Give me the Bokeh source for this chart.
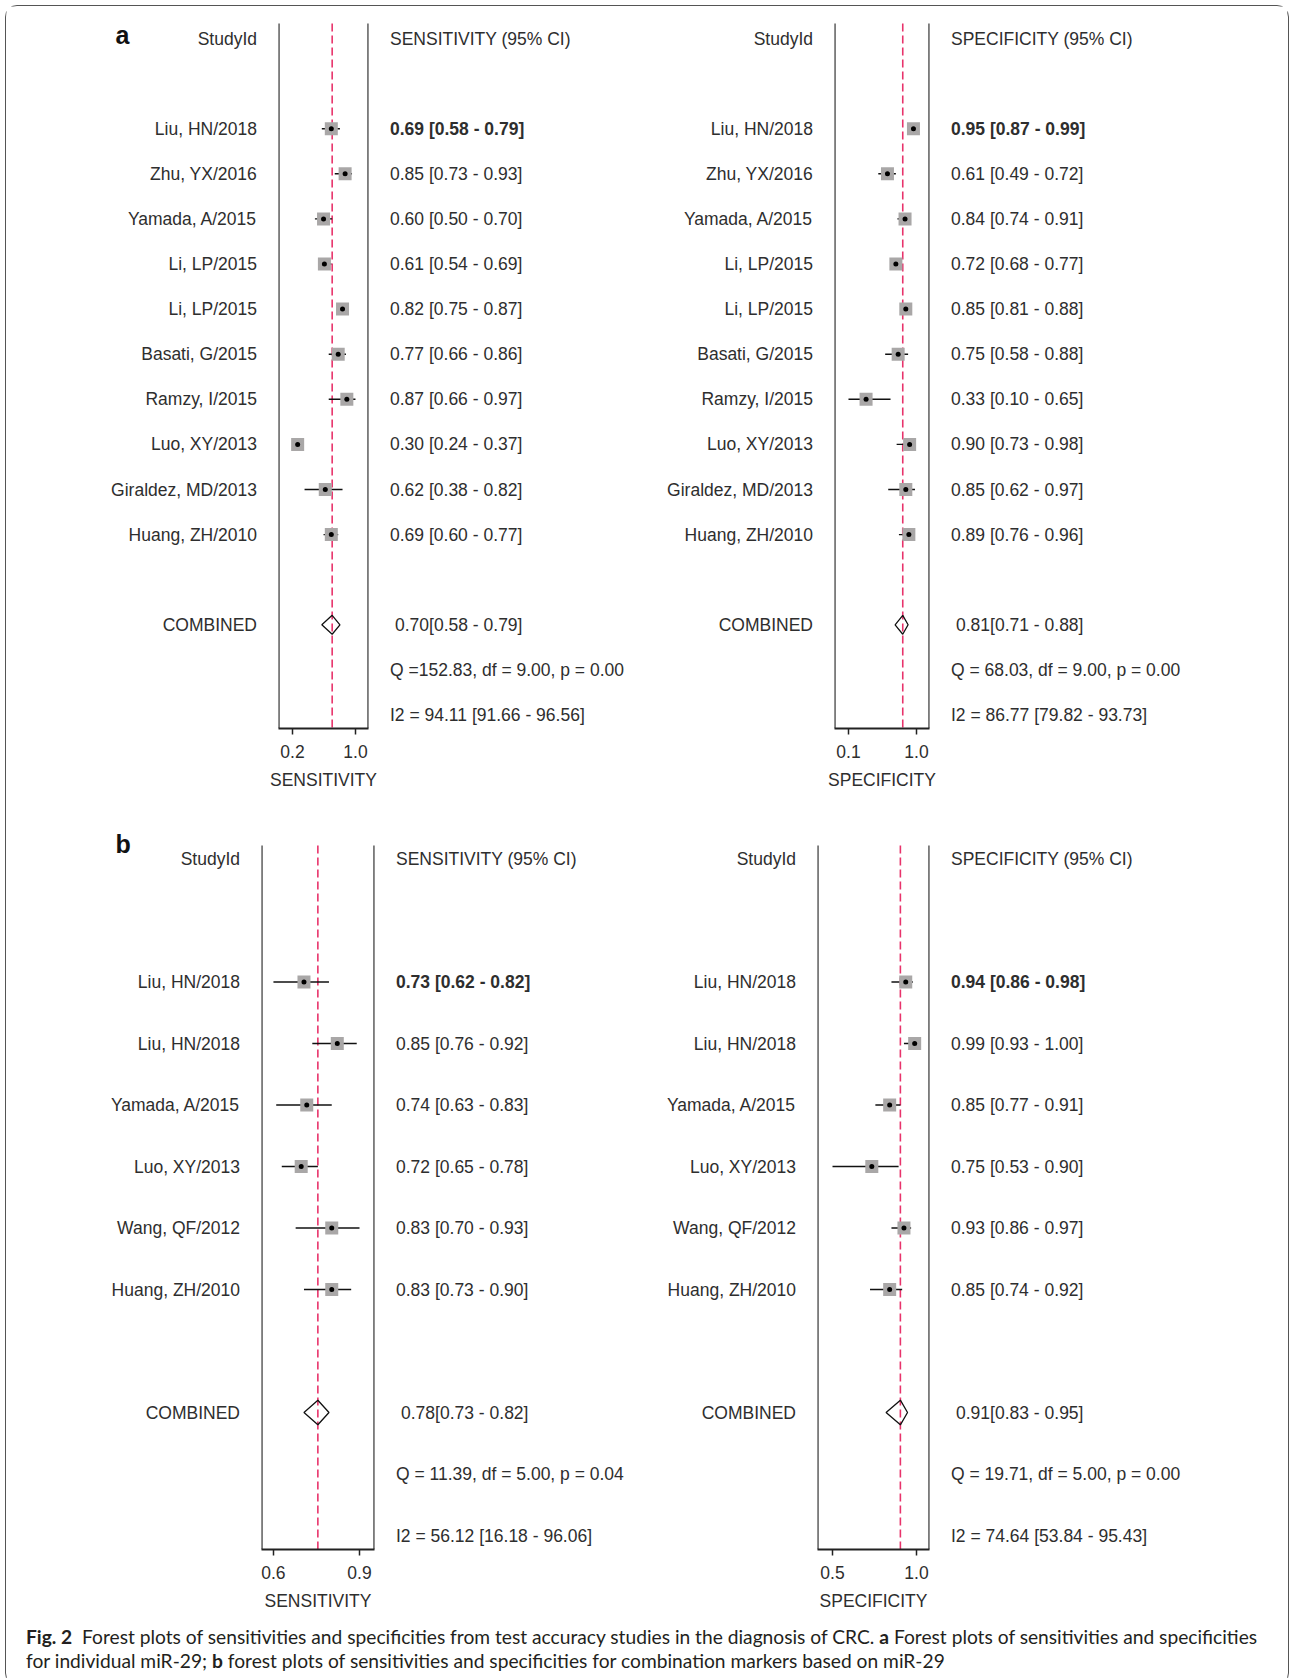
from bokeh.plotting import figure
from bokeh.models import Range1d, FixedTicker, NumeralTickFormatter, Div
from bokeh.layouts import row, column
from bokeh.core.properties import value
from bokeh.embed import file_html
from bokeh.resources import INLINE

# ---------------- data ----------------
studies_a = ["Liu, HN/2018", "Zhu, YX/2016", "Yamada, A/2015", "Li, LP/2015", "Li, LP/2015",
             "Basati, G/2015", "Ramzy, I/2015", "Luo, XY/2013", "Giraldez, MD/2013", "Huang, ZH/2010"]
sens_a = [0.69, 0.85, 0.60, 0.61, 0.82, 0.77, 0.87, 0.30, 0.62, 0.69]
sens_a_lo = [0.58, 0.73, 0.50, 0.54, 0.75, 0.66, 0.66, 0.24, 0.38, 0.60]
sens_a_hi = [0.79, 0.93, 0.70, 0.69, 0.87, 0.86, 0.97, 0.37, 0.82, 0.77]
spec_a = [0.95, 0.61, 0.84, 0.72, 0.85, 0.75, 0.33, 0.90, 0.85, 0.89]
spec_a_lo = [0.87, 0.49, 0.74, 0.68, 0.81, 0.58, 0.10, 0.73, 0.62, 0.76]
spec_a_hi = [0.99, 0.72, 0.91, 0.77, 0.88, 0.88, 0.65, 0.98, 0.97, 0.96]
sens_a_comb = [0.70, 0.58, 0.79]
spec_a_comb = [0.81, 0.71, 0.88]
sens_a_q = "Q =152.83, df = 9.00, p =  0.00"
sens_a_i2 = "I2 = 94.11 [91.66 - 96.56]"
spec_a_q = "Q = 68.03, df = 9.00, p =  0.00"
spec_a_i2 = "I2 = 86.77 [79.82 - 93.73]"

studies_b = ["Liu, HN/2018", "Liu, HN/2018", "Yamada, A/2015", "Luo, XY/2013", "Wang, QF/2012", "Huang, ZH/2010"]
sens_b = [0.73, 0.85, 0.74, 0.72, 0.83, 0.83]
sens_b_lo = [0.62, 0.76, 0.63, 0.65, 0.70, 0.73]
sens_b_hi = [0.82, 0.92, 0.83, 0.78, 0.93, 0.90]
spec_b = [0.94, 0.99, 0.85, 0.75, 0.93, 0.85]
spec_b_lo = [0.86, 0.93, 0.77, 0.53, 0.86, 0.74]
spec_b_hi = [0.98, 1.00, 0.91, 0.90, 0.97, 0.92]
sens_b_comb = [0.78, 0.73, 0.82]
spec_b_comb = [0.91, 0.83, 0.95]
sens_b_q = "Q = 11.39, df = 5.00, p =  0.04"
sens_b_i2 = "I2 = 56.12 [16.18 - 96.06]"
spec_b_q = "Q = 19.71, df = 5.00, p =  0.00"
spec_b_i2 = "I2 = 74.64 [53.84 - 95.43]"

caption_html = ("<b>Fig. 2</b>&nbsp; Forest plots of sensitivities and specificities from test accuracy "
                "studies in the diagnosis of CRC. <b>a</b> Forest plots of sensitivities and specificities<br>"
                "for individual miR-29; <b>b</b> forest plots of sensitivities and specificities for "
                "combination markers based on miR-29")

# ---------------- style ----------------
FONT = "Liberation Sans"
FS = "17.5px"
TXT = "#2e2e2e"
RED = "#e8336b"
SQ = "#a9a7a7"
GAP = 21.5
PAD = 20


def base_fig(x0, x1, yr, height, mbt, mbb, xr=None, axis=False, pad=0):
    p = figure(title=None, width=int(round(x1 - x0)), height=height,
               x_range=xr if xr is not None else Range1d(x0, x1), y_range=yr,
               output_backend="svg", toolbar_location=None,
               x_axis_type="linear" if axis else None, y_axis_type=None,
               min_border_left=pad, min_border_right=pad,
               min_border_top=mbt, min_border_bottom=mbb)
    p.outline_line_color = None
    p.grid.visible = False
    p.background_fill_color = "white"
    p.border_fill_color = "white"
    return p


def txt(p, xs, ys, texts, align, bold=False, size=FS, baseline="middle"):
    p.text(x=xs, y=ys, text=texts, text_font=value(FONT), text_font_size=value(size),
           text_font_style="bold" if bold else "normal", text_color=TXT,
           text_align=align, text_baseline=baseline)


def forest(edges, geo, studies, est, lo, hi, comb, qtxt, i2txt,
           header, axis_label, xr_vals, diamond_h, letter=None, letter_y=0.0):
    e0, e1, e2, e3 = edges          # label-left, frame-left, frame-right, text-right
    top, height, ft, bt, fb, y0, dy = geo   # row top, row height, frame top, box top, box bottom, row0 y, row step
    mbt, mbb = ft - top, top + height - fb
    y_bot, y_top = (fb - y0) / dy, (ft - y0) / dy
    box_top = (bt - y0) / dy
    yr = Range1d(start=y_bot, end=y_top)
    n = len(studies)
    rows = list(range(2, 2 + n))
    r_comb, r_q, r_i2 = n + 3, n + 4, n + 5

    # study labels
    lab = base_fig(e0, e1 - PAD, yr, height, mbt, mbb)
    txt(lab, [e1 - GAP], [0], ["StudyId"], "right")
    txt(lab, [e1 - GAP] * n, rows, studies, "right")
    txt(lab, [e1 - GAP], [r_comb], ["COMBINED"], "right")
    if letter:
        lab.text(x=[e0 + 109], y=[letter_y], text=[letter], text_font=value(FONT),
                 text_font_size=value("25px"), text_font_style="bold", text_color="#111",
                 text_align="left", text_baseline="alphabetic")

    # forest box
    x_lo, x_hi = xr_vals
    box = base_fig(e1 - PAD, e2 + PAD, yr, height, mbt, mbb, xr=Range1d(x_lo, x_hi), axis=True, pad=PAD)
    box.segment(x0=[x_lo, x_hi], x1=[x_lo, x_hi], y0=[box_top, box_top], y1=[y_bot, y_bot],
                line_color="#222", line_width=2.2)
    box.segment(x0=[comb[0]], x1=[comb[0]], y0=[box_top], y1=[y_bot], line_color=RED,
                line_width=1.6, line_dash="8 4")
    box.segment(x0=lo, x1=hi, y0=rows, y1=rows, line_color="#111", line_width=1.4)
    box.scatter(x=est, y=rows, marker="square", size=13, fill_color=SQ, line_color=None)
    box.scatter(x=est, y=rows, marker="circle", size=5, fill_color="black", line_color=None)
    c, cl, ch = comb
    box.patch(x=[cl, c, ch, c, cl], y=[r_comb, r_comb - diamond_h, r_comb, r_comb + diamond_h, r_comb],
              fill_color=None, line_color="#111", line_width=1.3)
    ax = box.xaxis[0]
    ax.ticker = FixedTicker(ticks=[min(lo), max(hi)])
    ax.formatter = NumeralTickFormatter(format="0.0")
    ax.minor_tick_line_color = None
    ax.major_tick_in = 0
    ax.major_tick_out = 6
    ax.major_tick_line_color = "#222"
    ax.major_tick_line_width = 1.5
    ax.axis_line_color = "#222"
    ax.axis_line_width = 2
    ax.major_label_text_font = FONT
    ax.major_label_text_font_size = FS
    ax.major_label_text_color = TXT
    ax.major_label_standoff = 10
    ax.axis_label = axis_label
    ax.axis_label_text_font = FONT
    ax.axis_label_text_font_size = FS
    ax.axis_label_text_font_style = "normal"
    ax.axis_label_text_color = TXT
    ax.axis_label_standoff = 9

    # CI text
    tx = base_fig(e2 + PAD, e3, yr, height, mbt, mbb)
    ci = ["%.2f [%.2f - %.2f]" % (v, l, h) for v, l, h in zip(est, lo, hi)]
    txt(tx, [e2 + GAP], [0], [header], "left")
    txt(tx, [e2 + GAP], [rows[0]], [ci[0]], "left", bold=True)
    txt(tx, [e2 + GAP] * (n - 1), rows[1:], ci[1:], "left")
    txt(tx, [e2 + GAP + 5], [r_comb], ["%.2f[%.2f - %.2f]" % (c, cl, ch)], "left")
    txt(tx, [e2 + GAP, e2 + GAP], [r_q, r_i2], [qtxt, i2txt], "left")
    return [lab, box, tx]


# ---------------- panel a ----------------
GEO_A = (6, 799, 12, 23, 728, 38.0, 45.1)
figs_a = forest([6, 278, 368, 645], GEO_A, studies_a, sens_a, sens_a_lo, sens_a_hi,
                sens_a_comb, sens_a_q, sens_a_i2, "SENSITIVITY (95% CI)", "SENSITIVITY",
                (0.078, 1.121), 0.21, letter="a", letter_y=-0.08)
figs_a += forest([645, 834, 929, 1287], GEO_A, studies_a, spec_a, spec_a_lo, spec_a_hi,
                 spec_a_comb, spec_a_q, spec_a_i2, "SPECIFICITY (95% CI)", "SPECIFICITY",
                 (-0.083, 1.160), 0.21)

# ---------------- panel b ----------------
GEO_B = (805, 815, 818, 845, 1549, 858.5, 61.5)
figs_b = forest([6, 261, 374, 645], GEO_B, studies_b, sens_b, sens_b_lo, sens_b_hi,
                sens_b_comb, sens_b_q, sens_b_i2, "SENSITIVITY (95% CI)", "SENSITIVITY",
                (0.577, 0.984), 0.2, letter="b", letter_y=-0.24)
figs_b += forest([645, 817, 929, 1287], GEO_B, studies_b, spec_b, spec_b_lo, spec_b_hi,
                 spec_b_comb, spec_b_q, spec_b_i2, "SPECIFICITY (95% CI)", "SPECIFICITY",
                 (0.446, 1.073), 0.2)

cap = Div(text=caption_html, width=1281, height=54,
          styles={"font-family": "Lato, 'Open Sans', sans-serif", "font-size": "19.2px",
                  "line-height": "24px", "color": "#231f20", "padding-left": "15px",
                  "padding-top": "0px", "box-sizing": "border-box",
                  "white-space": "nowrap"})

layout = column(row(*figs_a), row(*figs_b), cap,
                styles={"border": "1.5px solid #555", "border-radius": "12px",
                        "margin": "5px 0 0 5px", "width": "1284px", "box-sizing": "border-box",
                        "background": "white"})

open("out.html", "w").write(file_html(layout, INLINE, title="Forest plots"))
